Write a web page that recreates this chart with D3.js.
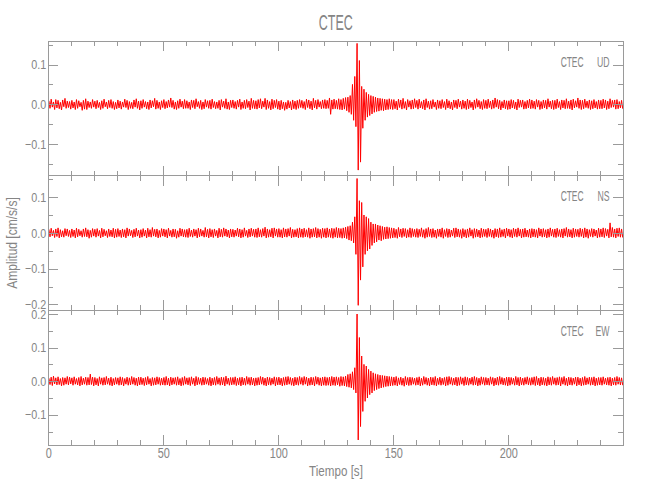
<!DOCTYPE html>
<html><head><meta charset="utf-8">
<script src="https://cdn.jsdelivr.net/npm/d3@7"></script>
<style>body{margin:0;background:#fff}svg{display:block}</style>
</head><body><svg id="c" width="650" height="500"></svg>
<script>
// ---- data ----
const chartTitle = "CTEC";
const station = "CTEC";
const components = ["UD", "NS", "EW"];
const xAxisTitle = "Tiempo [s]";
const yAxisTitle = "Amplitud [cm/s/s]";
const timeDomain = [0, 250];          // s
const binWidth = 1;                   // s, min/max per bin (display decimation)
const xMajorTicks = [0, 50, 100, 150, 200];
const yDomains = [[-0.179, 0.159], [-0.2165, 0.160], [-0.19, 0.211]];
const yMajorTicks = [[-0.1, 0, 0.1], [-0.2, -0.1, 0, 0.1], [-0.1, 0, 0.1, 0.2]];
const yMinorTicks = [[-0.15, -0.05, 0.05, 0.15], [-0.15, -0.05, 0.05, 0.15], [-0.15, -0.05, 0.05, 0.15]];

// UD: max / min per 1 s bin (cm/s/s)
const udHi = [
.009,.013,.006,.012,.010,.005,.011,.015,.008,.007,
.010,.006,.012,.009,.005,.010,.014,.008,.006,.012,
.008,.010,.005,.009,.013,.006,.010,.012,.007,.005,
.011,.008,.006,.013,.010,.007,.005,.011,.014,.008,
.009,.012,.007,.006,.011,.009,.015,.010,.006,.009,
.012,.007,.011,.016,.010,.006,.009,.013,.008,.012,
.009,.006,.011,.010,.014,.007,.010,.006,.012,.009,
.010,.013,.007,.006,.010,.012,.008,.014,.006,.010,
.011,.007,.010,.013,.006,.010,.012,.008,.015,.010,
.009,.012,.014,.008,.015,.011,.007,.013,.010,.012,
.008,.010,.006,.005,.010,.007,.011,.008,.010,.012,
.010,.007,.013,.011,.008,.015,.010,.012,.007,.011,
.012,.010,.016,.011,.013,.010,.014,.012,.015,.017,
.018,.022,.050,.070,.153,.110,.045,.038,.030,.025,
.022,.020,.018,.016,.015,.014,.013,.012,.014,.012,
.012,.008,.013,.011,.015,.007,.012,.009,.011,.014,
.010,.013,.007,.011,.014,.008,.009,.012,.006,.011,
.009,.012,.007,.013,.009,.006,.011,.010,.013,.008,
.011,.008,.013,.010,.006,.011,.014,.010,.007,.012,
.010,.013,.008,.011,.016,.012,.010,.007,.011,.009,
.009,.012,.010,.006,.013,.010,.011,.007,.010,.013,
.011,.008,.012,.010,.007,.011,.010,.014,.008,.010,
.010,.013,.007,.011,.010,.014,.008,.011,.013,.009,
.016,.011,.010,.013,.008,.011,.009,.012,.007,.011,
.010,.013,.011,.008,.014,.010,.011,.012,.007,.010];
const udLo = [
-.010,-.007,-.013,-.009,-.011,-.014,-.006,-.010,-.008,-.012,
-.009,-.013,-.010,-.006,-.015,-.012,-.013,-.008,-.010,-.007,
-.011,-.008,-.013,-.010,-.006,-.011,-.008,-.010,-.013,-.011,
-.009,-.012,-.007,-.008,-.013,-.010,-.011,-.007,-.010,-.014,
-.010,-.007,-.011,-.013,-.009,-.006,-.012,-.010,-.013,-.008,
-.011,-.009,-.007,-.008,-.012,-.013,-.010,-.007,-.011,-.010,
-.010,-.013,-.008,-.011,-.006,-.010,-.013,-.011,-.007,-.010,
-.012,-.008,-.011,-.010,-.014,-.007,-.010,-.012,-.013,-.008,
-.010,-.012,-.007,-.013,-.010,-.011,-.008,-.014,-.010,-.011,
-.012,-.009,-.011,-.007,-.013,-.010,-.014,-.011,-.008,-.012,
-.014,-.011,-.015,-.012,-.009,-.014,-.011,-.013,-.010,-.008,
-.010,-.013,-.008,-.011,-.014,-.009,-.012,-.007,-.011,-.010,
-.011,-.010,-.025,-.012,-.011,-.012,-.013,-.014,-.012,-.016,
-.020,-.025,-.040,-.056,-.165,-.145,-.060,-.040,-.032,-.028,
-.024,-.020,-.018,-.017,-.015,-.016,-.014,-.013,-.012,-.013,
-.011,-.014,-.008,-.012,-.010,-.014,-.007,-.012,-.011,-.008,
-.012,-.009,-.011,-.014,-.008,-.012,-.011,-.007,-.013,-.010,
-.011,-.008,-.013,-.009,-.011,-.014,-.008,-.011,-.007,-.012,
-.010,-.013,-.011,-.008,-.014,-.010,-.007,-.011,-.013,-.010,
-.011,-.008,-.012,-.010,-.007,-.011,-.014,-.009,-.011,-.013,
-.012,-.009,-.011,-.014,-.008,-.007,-.012,-.011,-.009,-.011,
-.010,-.012,-.007,-.013,-.011,-.009,-.012,-.007,-.011,-.013,
-.011,-.008,-.013,-.009,-.011,-.010,-.011,-.014,-.009,-.007,
-.010,-.013,-.011,-.008,-.010,-.013,-.011,-.009,-.012,-.011,
-.011,-.009,-.013,-.011,-.008,-.007,-.012,-.011,-.009,-.011];

// NS
const nsHi = [
.010,.013,.007,.011,.014,.009,.006,.012,.011,.007,
.011,.008,.013,.010,.006,.011,.014,.009,.007,.012,
.010,.012,.007,.013,.010,.006,.011,.008,.013,.010,
.012,.008,.011,.009,.014,.011,.007,.010,.013,.008,
.009,.012,.008,.013,.009,.015,.010,.011,.007,.012,
.011,.009,.013,.007,.011,.010,.006,.013,.011,.009,
.010,.013,.008,.011,.009,.013,.011,.007,.015,.010,
.012,.009,.011,.007,.013,.010,.014,.011,.008,.011,
.010,.008,.013,.011,.009,.014,.007,.011,.013,.010,
.011,.014,.009,.012,.016,.011,.009,.013,.014,.011,
.012,.009,.014,.011,.012,.015,.010,.009,.012,.014,
.011,.013,.009,.014,.011,.012,.015,.012,.010,.013,
.012,.014,.011,.013,.012,.015,.013,.012,.014,.016,
.018,.020,.030,.045,.152,.090,.085,.050,.045,.040,
.030,.025,.025,.022,.020,.018,.016,.017,.015,.014,
.013,.010,.015,.011,.013,.012,.009,.014,.012,.010,
.012,.010,.014,.009,.012,.015,.011,.012,.008,.011,
.011,.014,.009,.012,.011,.008,.013,.014,.011,.009,
.012,.009,.011,.014,.009,.012,.011,.008,.013,.011,
.010,.013,.011,.008,.012,.011,.014,.009,.011,.013,
.011,.009,.013,.011,.014,.010,.011,.013,.008,.011,
.012,.011,.009,.014,.011,.012,.009,.011,.014,.010,
.011,.013,.009,.011,.012,.015,.011,.009,.013,.011,
.010,.013,.011,.014,.011,.009,.012,.011,.008,.013,
.011,.014,.012,.010,.028,.015,.011,.013,.014,.011];
const nsLo = [
-.011,-.008,-.013,-.010,-.014,-.011,-.012,-.008,-.010,-.013,
-.010,-.014,-.011,-.008,-.012,-.010,-.011,-.015,-.012,-.009,
-.012,-.009,-.014,-.011,-.008,-.013,-.010,-.011,-.014,-.012,
-.010,-.013,-.011,-.014,-.009,-.008,-.013,-.011,-.009,-.014,
-.012,-.009,-.014,-.011,-.012,-.009,-.011,-.014,-.012,-.009,
-.011,-.014,-.009,-.012,-.011,-.015,-.012,-.009,-.011,-.012,
-.013,-.010,-.012,-.009,-.014,-.011,-.009,-.012,-.011,-.014,
-.011,-.013,-.009,-.014,-.011,-.012,-.009,-.011,-.014,-.011,
-.012,-.009,-.011,-.014,-.012,-.009,-.013,-.011,-.009,-.012,
-.013,-.011,-.012,-.009,-.014,-.012,-.011,-.014,-.009,-.012,
-.012,-.014,-.011,-.012,-.009,-.014,-.012,-.011,-.014,-.012,
-.013,-.011,-.012,-.015,-.012,-.011,-.014,-.012,-.015,-.012,
-.014,-.012,-.013,-.015,-.012,-.014,-.013,-.015,-.014,-.016,
-.020,-.022,-.028,-.060,-.2025,-.132,-.095,-.060,-.050,-.045,
-.035,-.028,-.025,-.020,-.022,-.018,-.017,-.016,-.015,-.014,
-.013,-.015,-.011,-.013,-.010,-.014,-.012,-.013,-.010,-.012,
-.013,-.010,-.012,-.015,-.012,-.010,-.013,-.012,-.015,-.010,
-.012,-.015,-.010,-.013,-.012,-.009,-.013,-.011,-.012,-.015,
-.011,-.014,-.012,-.009,-.015,-.012,-.011,-.014,-.012,-.010,
-.013,-.010,-.012,-.015,-.011,-.013,-.012,-.010,-.014,-.009,
-.012,-.014,-.010,-.012,-.009,-.014,-.012,-.011,-.012,-.014,
-.011,-.012,-.014,-.009,-.012,-.011,-.014,-.012,-.009,-.012,
-.013,-.010,-.012,-.014,-.009,-.012,-.011,-.014,-.012,-.010,
-.012,-.010,-.014,-.012,-.015,-.010,-.012,-.009,-.014,-.012,
-.011,-.013,-.009,-.014,-.011,-.012,-.014,-.010,-.012,-.013];

// EW
const ewHi = [
.009,.012,.015,.010,.013,.008,.011,.010,.014,.012,
.010,.013,.008,.011,.014,.009,.012,.011,.021,.012,
.011,.008,.013,.010,.011,.014,.009,.012,.008,.011,
.010,.013,.011,.008,.012,.010,.014,.011,.009,.012,
.012,.009,.011,.014,.008,.011,.010,.013,.011,.009,
.011,.014,.009,.012,.010,.011,.013,.008,.011,.014,
.010,.011,.013,.009,.014,.011,.009,.012,.011,.008,
.012,.009,.011,.014,.010,.012,.011,.015,.009,.011,
.011,.013,.009,.011,.012,.009,.014,.011,.012,.009,
.010,.011,.014,.012,.009,.012,.011,.009,.013,.011,
.012,.009,.011,.013,.014,.011,.009,.012,.011,.014,
.011,.014,.012,.009,.012,.011,.014,.012,.010,.012,
.013,.011,.012,.014,.012,.013,.011,.014,.013,.015,
.020,.022,.028,.040,.200,.130,.075,.050,.045,.035,
.030,.025,.022,.020,.018,.017,.016,.015,.014,.013,
.012,.014,.010,.012,.009,.014,.011,.012,.011,.009,
.011,.013,.009,.014,.011,.009,.012,.011,.014,.009,
.012,.009,.011,.013,.014,.011,.009,.012,.011,.013,
.010,.013,.011,.009,.012,.014,.011,.009,.013,.011,
.011,.009,.013,.011,.009,.012,.014,.011,.009,.012,
.012,.011,.009,.014,.011,.012,.009,.011,.013,.010,
.011,.013,.014,.009,.012,.011,.009,.013,.011,.014,
.010,.011,.013,.011,.014,.009,.012,.011,.009,.012,
.012,.009,.011,.014,.010,.012,.011,.013,.009,.011,
.011,.013,.009,.011,.012,.009,.011,.014,.011,.010];
const ewLo = [
-.010,-.013,-.008,-.011,-.010,-.014,-.012,-.009,-.011,-.008,
-.012,-.009,-.011,-.014,-.011,-.009,-.012,-.011,-.010,-.014,
-.011,-.014,-.009,-.012,-.011,-.009,-.012,-.014,-.011,-.009,
-.012,-.011,-.014,-.009,-.012,-.011,-.009,-.012,-.014,-.011,
-.010,-.013,-.011,-.009,-.014,-.012,-.011,-.009,-.012,-.011,
-.012,-.011,-.014,-.011,-.009,-.012,-.011,-.014,-.012,-.009,
-.011,-.013,-.009,-.014,-.011,-.009,-.012,-.011,-.009,-.012,
-.014,-.011,-.012,-.009,-.012,-.011,-.014,-.009,-.012,-.011,
-.010,-.013,-.011,-.014,-.011,-.012,-.009,-.012,-.011,-.014,
-.012,-.011,-.009,-.012,-.014,-.011,-.012,-.009,-.014,-.011,
-.011,-.014,-.012,-.011,-.009,-.012,-.014,-.011,-.012,-.009,
-.012,-.009,-.014,-.012,-.011,-.014,-.009,-.012,-.014,-.012,
-.013,-.012,-.014,-.012,-.013,-.011,-.015,-.013,-.014,-.016,
-.018,-.020,-.025,-.035,-.175,-.135,-.090,-.060,-.050,-.040,
-.035,-.028,-.025,-.022,-.020,-.018,-.016,-.015,-.014,-.013,
-.012,-.014,-.010,-.012,-.015,-.011,-.013,-.012,-.009,-.012,
-.011,-.014,-.012,-.009,-.012,-.014,-.011,-.012,-.014,-.010,
-.012,-.010,-.014,-.012,-.009,-.012,-.011,-.014,-.012,-.009,
-.013,-.011,-.012,-.009,-.012,-.011,-.014,-.012,-.009,-.012,
-.011,-.012,-.009,-.014,-.011,-.012,-.009,-.011,-.012,-.014,
-.012,-.009,-.012,-.011,-.014,-.011,-.012,-.009,-.011,-.012,
-.010,-.013,-.011,-.014,-.011,-.012,-.014,-.011,-.012,-.009,
-.012,-.011,-.014,-.009,-.012,-.014,-.011,-.012,-.009,-.014,
-.011,-.014,-.012,-.011,-.009,-.012,-.011,-.014,-.012,-.011,
-.012,-.009,-.011,-.012,-.014,-.011,-.012,-.009,-.011,-.012];

const traceHi = [udHi, nsHi, ewHi];
const traceLo = [udLo, nsLo, ewLo];

// ---- drawing ----
const FONT = "'Liberation Sans', Arial, sans-serif";
const AXIS = "#9a9a9a", TEXT = "#858585", TRACE = "#ff0000";
const plotLeft = 48.3, plotRight = 623.3, plotTop = 41, plotBottom = 445;
const panelH = (plotBottom - plotTop) / components.length;

const svg = d3.select("#c");
const x = d3.scaleLinear().domain(timeDomain).range([plotLeft, plotRight]);
const xMinor = d3.range(timeDomain[0], timeDomain[1] + 0.001, 10).filter(v => !xMajorTicks.includes(v) && v < timeDomain[1]);

function styleAxis(g, size, sx) {
  g.selectAll("path, line").attr("stroke", AXIS).attr("stroke-width", 1).attr("shape-rendering", "crispEdges");
  g.selectAll("text").attr("fill", TEXT).style("font-family", FONT).style("font-size", (size || 13) + "px")
    .each(function () {
      const t = d3.select(this);
      const tx = +t.attr("x") || 0;
      t.attr("x", 0).attr("transform", `translate(${tx},0) scale(${sx || 1},1)`);
    });
}
// narrow (Hershey-like) text via horizontal scaling
function narrowText(parent, tx, ty, anchor, sx, size, str, rot) {
  return parent.append("text")
    .attr("transform", `translate(${tx},${ty})${rot ? " rotate(" + rot + ")" : ""} scale(${sx},1)`)
    .attr("text-anchor", anchor).attr("fill", TEXT)
    .style("font-family", FONT).style("font-size", size + "px").text(str);
}

components.forEach((comp, i) => {
  const y0 = plotTop + i * panelH, y1 = y0 + panelH;
  const y = d3.scaleLinear().domain(yDomains[i]).range([y1, y0]);
  const g = svg.append("g");

  // trace (min/max decimated: max at start of bin, min at end)
  const pts = [];
  traceHi[i].forEach((v, k) => {
    pts.push([k * binWidth + 0.25 * binWidth, v]);
    pts.push([k * binWidth + 0.75 * binWidth, traceLo[i][k]]);
  });
  g.append("path")
    .attr("d", d3.line().x(d => x(d[0])).y(d => y(d[1]))(pts))
    .attr("fill", "none").attr("stroke", TRACE).attr("stroke-width", 1)
    .attr("stroke-linejoin", "round");

  // left axis
  const la = g.append("g").attr("transform", `translate(${plotLeft},0)`)
    .call(d3.axisLeft(y).tickValues(yMajorTicks[i]).tickSize(-10).tickSizeOuter(0).tickPadding(2).tickFormat(d3.format(".1f")));
  la.select(".domain").remove();
  styleAxis(la, 13, 0.83);
  const lm = g.append("g").attr("transform", `translate(${plotLeft},0)`)
    .call(d3.axisLeft(y).tickValues(yMinorTicks[i]).tickSize(-5).tickFormat(""));
  lm.select(".domain").remove(); styleAxis(lm);
  // right axis
  const ra = g.append("g").attr("transform", `translate(${plotRight},0)`)
    .call(d3.axisRight(y).tickValues(yMajorTicks[i]).tickSize(-10).tickFormat(""));
  ra.select(".domain").remove(); styleAxis(ra);
  const rm = g.append("g").attr("transform", `translate(${plotRight},0)`)
    .call(d3.axisRight(y).tickValues(yMinorTicks[i]).tickSize(-5).tickFormat(""));
  rm.select(".domain").remove(); styleAxis(rm);

  // top x ticks (inward)
  const ta = g.append("g").attr("transform", `translate(0,${y0})`)
    .call(d3.axisBottom(x).tickValues(xMajorTicks).tickSize(10).tickFormat(""));
  ta.select(".domain").remove(); styleAxis(ta);
  const tm = g.append("g").attr("transform", `translate(0,${y0})`)
    .call(d3.axisBottom(x).tickValues(xMinor).tickSize(5).tickFormat(""));
  tm.select(".domain").remove(); styleAxis(tm);
  // bottom x ticks (inward), labels on the last panel
  const last = i === components.length - 1;
  const ba = g.append("g").attr("transform", `translate(0,${y1})`)
    .call(d3.axisBottom(x).tickValues(xMajorTicks).tickSize(-10).tickPadding(3).tickFormat(last ? d3.format("d") : ""));
  ba.select(".domain").remove(); styleAxis(ba, 14, 0.78);
  const bm = g.append("g").attr("transform", `translate(0,${y1})`)
    .call(d3.axisBottom(x).tickValues(xMinor).tickSize(-5).tickFormat(""));
  bm.select(".domain").remove(); styleAxis(bm);

  // frame
  g.append("rect").attr("x", plotLeft).attr("y", y0).attr("width", plotRight - plotLeft).attr("height", panelH)
    .attr("fill", "none").attr("stroke", AXIS).attr("stroke-width", 1).attr("shape-rendering", "crispEdges");

  // station / component label
  narrowText(g, 583.5, y0 + 25.5, "end", 0.56, 15, station);
  narrowText(g, 609.5, y0 + 25.5, "end", 0.58, 15, comp);
});

// titles
narrowText(svg, (plotLeft + plotRight) / 2, 30, "middle", 0.57, 22, chartTitle);
narrowText(svg, 336, 475.5, "middle", 0.83, 14, xAxisTitle);
narrowText(svg, 16.5, (plotTop + plotBottom) / 2, "middle", 0.83, 14.5, yAxisTitle, -90);
</script></body></html>
